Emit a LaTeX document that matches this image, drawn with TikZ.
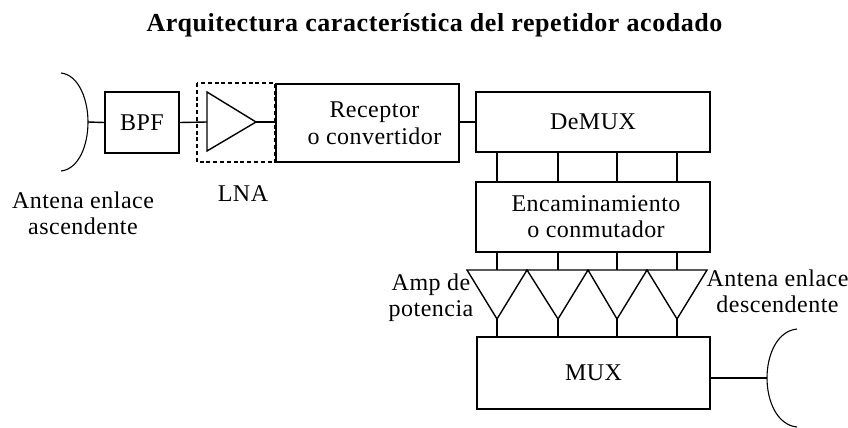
\documentclass[tikz,border=0pt]{standalone}
\usepackage{fontspec}
\setmainfont{Liberation Serif}
\newfontfamily\spacedfont[LetterSpace=2.0]{Liberation Serif}
\newfontfamily\titlefont[LetterSpace=2.2]{Liberation Serif}
\tikzset{
  lbl/.style={font=\spacedfont\fontsize{24}{26}\selectfont,align=center,inner sep=0pt},
  boxnode/.style={draw,line width=1.6pt,inner sep=0pt,lbl},
  wire/.style={line width=1.4pt},
  ampshape/.style={line width=1.4pt,line join=miter},
  dish/.style={line width=1.1pt},
}
\begin{document}
\begin{tikzpicture}[x=1pt,y=-1pt]
\useasboundingbox (0,0) rectangle (848,428);
\node[font=\titlefont\bfseries\fontsize{26}{28}\selectfont,inner sep=0pt] (title) at (434.5,25) {Arquitectura característica del repetidor acodado};
% boxes
\node[boxnode,minimum width=74pt,minimum height=61pt] (bpf) at (142,122.5) {BPF};
\node[boxnode,minimum width=183pt,minimum height=78.5pt] (rx) at (367.5,123) {\hspace*{14pt}Receptor\\[1pt]\hspace*{14pt}o convertidor};
\node[boxnode,minimum width=234pt,minimum height=60pt] (demux) at (593,122) {DeMUX};
\node[boxnode,minimum width=234pt,minimum height=70pt] (enc) at (593,217) {\hspace*{6pt}Encaminamiento\\\hspace*{6pt}o conmutador};
\node[boxnode,minimum width=233pt,minimum height=72pt] (mux) at (593.5,373) {MUX};
\draw[line width=1.6pt,dash pattern=on 4pt off 2.8pt] (197,83) rectangle (275,162);
% LNA triangle
\coordinate (la) at (207,92);
\coordinate (lb) at (207,151);
\coordinate (lt) at (256,122);
\coordinate (lin) at (207,122);
\draw[ampshape] (la) -- (lt) -- (lb) -- cycle;
\draw[wire] (bpf.east) -- (lin);
\draw[wire] (lt) -- (lt -| rx.west);
\draw[wire] (rx.east |- demux.west) -- (demux.west);
% left antenna
\coordinate (a1) at (61,73);
\coordinate (a2) at (88,122);
\coordinate (a3) at (61,171);
\draw[dish] (a1) .. controls (79,75) and (88,100) .. (a2) .. controls (88,145) and (79,169) .. (a3);
\draw[wire] (a2) -- (bpf.west);
% right antenna
\coordinate (b1) at (797,329);
\coordinate (b2) at (767,378);
\coordinate (b3) at (797,427);
\draw[dish] (b1) .. controls (777,331) and (767,355) .. (b2) .. controls (767,401) and (777,425) .. (b3);
\draw[wire] (mux.east |- b2) -- (b2);
% amplifiers and parallel lines
\foreach \i/\xl/\xt/\xr in {1/467/497/527,2/527/558/588,3/588/617/647,4/647/677/707}{
  \coordinate (t\i) at (\xt,319);
  \coordinate (u\i) at (\xt,270);
  \draw[ampshape] (\xl,270) -- (\xr,270) -- (t\i) -- cycle;
  \draw[wire] (demux.south -| t\i) -- (enc.north -| t\i);
  \draw[wire] (enc.south -| t\i) -- (u\i);
  \draw[wire] (t\i) -- (mux.north -| t\i);
}
% labels
\node[lbl] (lna) at (243,194) {LNA};
\node[lbl] (antup) at (83,213) {Antena enlace\\ascendente};
\node[lbl] (pot) at (431,298) {Amp de\\potencia};
\node[lbl] (antdown) at (777.5,291.5) {Antena enlace\\descendente};
\end{tikzpicture}
\end{document}
